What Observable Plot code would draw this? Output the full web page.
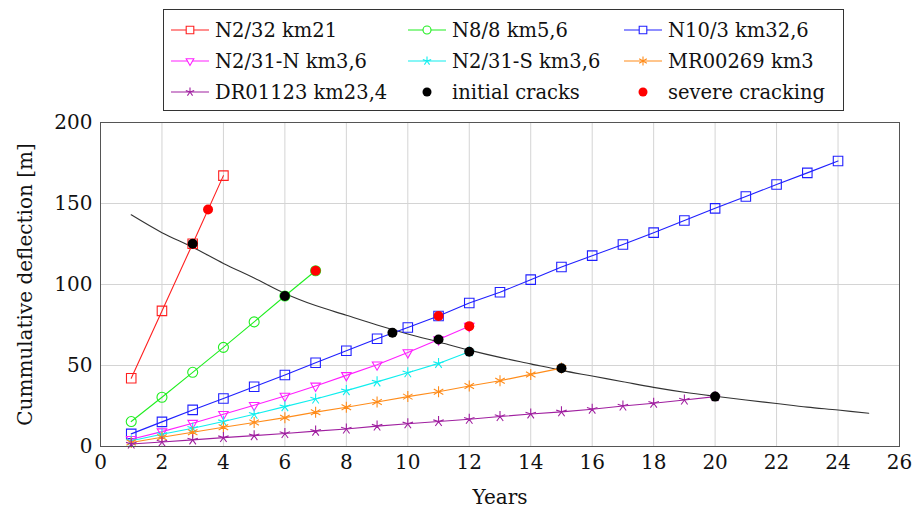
<!DOCTYPE html>
<html><head><meta charset="utf-8">
<script src="https://cdn.jsdelivr.net/npm/d3@7"></script>
<script src="https://cdn.jsdelivr.net/npm/@observablehq/plot@0.6"></script>
<style>
body{margin:0;background:#fff;}
#wrap{position:relative;width:914px;height:511px;font-family:"DejaVu Serif",serif;}
#legend{position:absolute;left:163px;top:9px;width:681px;height:102px;border:1px solid #333;box-sizing:border-box;background:#fff;}
.item{position:absolute;height:30px;display:flex;align-items:center;font-family:"DejaVu Serif",serif;font-size:19.5px;white-space:nowrap;color:#111;}
.item svg{margin-right:6px;}
</style></head><body><div id="wrap"><div id="chart"></div><div id="legend"></div></div>
<script>
// ---- data ----
const seriesNames = ["N2/32 km21","N8/8 km5,6","N10/3 km32,6","N2/31-N km3,6","N2/31-S km3,6","MR00269 km3","DR01123 km23,4"];
const seriesColors = ["#ff2020","#20ee20","#2020ff","#ff20ff","#10eeee","#ff8c1a","#a020a0"];
const yearsN2_32 = [1,2,3,4];
const valuesN2_32 = [42.1, 83.7, 125.2, 167.2];
const yearsN8_8 = [1,2,3,4,5,6,7];
const valuesN8_8 = [15.4, 30.4, 45.8, 61.2, 76.9, 92.9, 108.5];
const yearsN10_3 = [1,2,3,4,5,6,7,8,9,10,11,12,13,14,15,16,17,18,19,20,21,22,23,24];
const valuesN10_3 = [7.8, 15.2, 22.6, 29.6, 36.9, 44.1, 51.7, 59.1, 66.5, 73.5, 80.6, 88.6, 95.2, 103, 110.8, 117.8, 124.7, 132, 139.5, 147, 154.3, 161.7, 168.9, 176.2];
const yearsN2_31N = [1,2,3,4,5,6,7,8,9,10,11,12];
const valuesN2_31N = [4.5, 9.2, 14.4, 19.9, 25.5, 31.2, 37.4, 43.9, 50.5, 58, 66, 74.3];
const yearsN2_31S = [1,2,3,4,5,6,7,8,9,10,11,12];
const valuesN2_31S = [3.5, 7.6, 11.3, 15.4, 19.9, 24.6, 29.3, 34.5, 39.9, 45.5, 51.3, 58.5];
const yearsMR = [1,2,3,4,5,6,7,8,9,10,11,12,13,14,15];
const valuesMR = [2.5, 5.7, 8.8, 11.9, 14.8, 17.8, 21.2, 24.2, 27.5, 30.8, 33.8, 37.3, 40.6, 44.5, 48.4];
const yearsDR = [1,2,3,4,5,6,7,8,9,10,11,12,13,14,15,16,17,18,19,20];
const valuesDR = [1.5, 2.8, 4.1, 5.5, 6.7, 8.0, 9.5, 10.8, 12.6, 14, 15.4, 16.8, 18.5, 20.1, 21.4, 23, 25, 26.7, 28.7, 30.8];
const curveYears = [1,2,3,4,5,6,7,8,9,10,11,12,13,14,15,16,17,18,19,20,21,22,23,24,25];
const curveValues = [143, 132, 123, 113, 104, 94.5, 87, 81, 75, 69.5, 64.5, 59.5, 55, 51, 47, 43.5, 40, 36.5, 33.5, 31, 28.7, 26.5, 24.3, 22.5, 20.5];
const initialYears = [3, 6, 9.5, 11, 12, 15, 20];
const initialValues = [125.2, 92.9, 70.2, 66.1, 58.5, 48.3, 30.8];
const severeYears = [3.5, 7, 11, 12];
const severeValues = [146.3, 108.5, 80.6, 74.3];
const xTicks = [0,2,4,6,8,10,12,14,16,18,20,22,24,26];
const yTicks = [0,50,100,150,200];

// ---- symbols (pgf-like marks) ----
const rad = size => Math.sqrt(size / Math.PI);
const symSquare = {draw(c, s){ const r = rad(s)*0.95; c.rect(-r, -r, 2*r, 2*r); }};
const symCircle = {draw(c, s){ const r = rad(s); c.moveTo(r,0); c.arc(0,0,r,0,2*Math.PI); }};
const symTriDown = {draw(c, s){ const r = rad(s)*1.1; c.moveTo(0, r); c.lineTo(-r*0.866, -r*0.5); c.lineTo(r*0.866, -r*0.5); c.closePath(); }};
const symStar = {draw(c, s){ const r = rad(s)*1.1; for (let k=0;k<5;k++){ const a = -Math.PI/2 + k*2*Math.PI/5; c.moveTo(0,0); c.lineTo(r*Math.cos(a), r*Math.sin(a)); } }};
const symAsterisk = {draw(c, s){ const r = rad(s)*1.1; for (let k=0;k<6;k++){ const a = Math.PI/2 + k*Math.PI/3; c.moveTo(0,0); c.lineTo(r*Math.cos(a), r*Math.sin(a)); } }};
const seriesSymbols = [symSquare, symCircle, symSquare, symTriDown, symStar, symAsterisk, symStar];

const seriesYears = [yearsN2_32, yearsN8_8, yearsN10_3, yearsN2_31N, yearsN2_31S, yearsMR, yearsDR];
const seriesValues = [valuesN2_32, valuesN8_8, valuesN10_3, valuesN2_31N, valuesN2_31S, valuesMR, valuesDR];
const series = seriesNames.map((name, i) => seriesYears[i].map((x, j) => ({name, x, y: seriesValues[i][j]})));
const curve = curveYears.map((x, i) => ({x, y: curveValues[i]}));
const initial = initialYears.map((x, i) => ({x, y: initialValues[i]}));
const severe = severeYears.map((x, i) => ({x, y: severeValues[i]}));

const marks = [
  Plot.gridX(xTicks, {stroke: "#d4d4d4", strokeOpacity: 1}),
  Plot.gridY(yTicks, {stroke: "#d4d4d4", strokeOpacity: 1}),
  Plot.line(curve, {x: "x", y: "y", stroke: "#333", strokeWidth: 1.1, curve: "catmull-rom"})
];
series.forEach((d, i) => {
  marks.push(Plot.line(d, {x: "x", y: "y", stroke: seriesColors[i], strokeWidth: 1.1}));
  marks.push(Plot.dot(d, {x: "x", y: "y", stroke: seriesColors[i], fill: "none", symbol: seriesSymbols[i], r: 5, strokeWidth: 1.1}));
});
marks.push(Plot.dot(initial, {x: "x", y: "y", fill: "black", r: 5}));
marks.push(Plot.dot(severe, {x: "x", y: "y", fill: "#ff0000", r: 5}));
marks.push(Plot.frame({stroke: "#555"}));
marks.push(Plot.axisX({ticks: xTicks, tickSize: 0, tickPadding: 8, label: "Years", labelArrow: "none", labelAnchor: "center", labelOffset: 57, tickFormat: d => d}));
marks.push(Plot.axisY({ticks: yTicks, tickSize: 0, tickPadding: 8, label: "Cummulative deflection [m]", labelAnchor: "center", labelOffset: 83, labelArrow: "none", tickFormat: d => d}));

const chart = Plot.plot({
  width: 914, height: 511,
  marginLeft: 100, marginRight: 15, marginTop: 122, marginBottom: 65,
  x: {domain: [0, 26]},
  y: {domain: [0, 200]},
  style: {fontFamily: "DejaVu Serif", fontSize: "20px", background: "white", color: "#111"},
  marks
});
document.getElementById("chart").appendChild(chart);

// ---- legend ----
const legend = d3.select("#legend");
const colLine = [171, 408, 624];
const rowMid = [30, 61, 92];
const legendItems = seriesNames.map((name, i) => ({name, color: seriesColors[i], symbol: seriesSymbols[i], line: true}))
  .concat([{name: "initial cracks", color: "black", dot: true}, {name: "severe cracking", color: "#ff0000", dot: true}]);
legendItems.forEach((it, k) => {
  const col = k % 3, row = Math.floor(k / 3);
  const div = legend.append("div").attr("class", "item")
    .style("left", (colLine[col] - 164) + "px").style("top", (rowMid[row] - 10 - 15) + "px");
  const svg = div.append("svg").attr("width", 38).attr("height", 20);
  if (it.line) {
    svg.append("line").attr("x1", 0).attr("x2", 38).attr("y1", 10).attr("y2", 10).attr("stroke", it.color).attr("stroke-width", 1.1);
    svg.append("path").attr("transform", "translate(19,10)")
      .attr("d", d3.symbol().type(it.symbol).size(Math.PI * 16)())
      .attr("stroke", it.color).attr("fill", "white").attr("stroke-width", 1.1);
  } else {
    svg.append("circle").attr("cx", 19).attr("cy", 10).attr("r", 4.5).attr("fill", it.color);
  }
  div.append("span").text(it.name);
});
</script>
</body></html>
